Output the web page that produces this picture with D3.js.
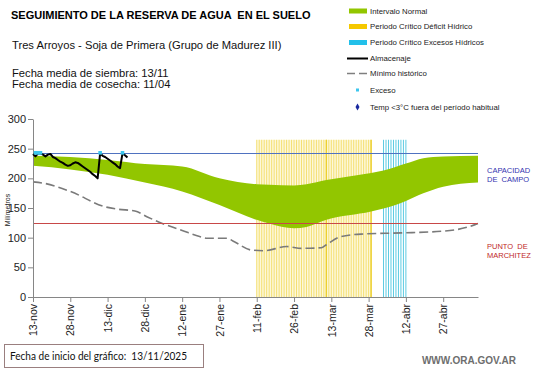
<!DOCTYPE html>
<html>
<head>
<meta charset="utf-8">
<script src="https://cdn.jsdelivr.net/npm/d3@7.9.0/dist/d3.min.js"></script>
<style>
  body { margin: 0; background: #fff; }
  svg { display: block; font-family: "Liberation Sans", Arial, sans-serif; }
</style>
</head>
<body>
<svg id="chart" width="541" height="368"></svg>
<script>
// ---- data ----
const bandDates = ['2025-11-13','2025-11-28','2025-12-13','2025-12-28','2026-01-12','2026-01-27',
  '2026-02-11','2026-02-16','2026-02-26','2026-03-03','2026-03-11','2026-03-29','2026-04-03',
  '2026-04-12','2026-04-19','2026-04-27','2026-05-11'];
const bandLow  = [221, 215, 206, 193, 178, 155, 130, 124, 116, 118, 130, 144, 149, 162, 175, 186, 193];
const bandHigh = [238, 236, 231, 224, 220, 200, 190, 189, 188, 190, 197, 209, 213, 225, 234, 237, 238];

const minDates = ['2025-11-13','2025-11-17','2025-11-28','2025-12-12','2025-12-17','2025-12-24',
  '2025-12-29','2026-01-04','2026-01-12','2026-01-19','2026-01-22','2026-01-30','2026-02-02',
  '2026-02-09','2026-02-14','2026-02-23','2026-03-01','2026-03-09','2026-03-11','2026-03-17',
  '2026-03-25','2026-04-10','2026-04-27','2026-05-07','2026-05-11'];
const minValues = [194, 192, 178, 152, 148, 145, 135, 124, 112, 102, 99, 99, 93,
  79, 78, 85, 82, 83, 88, 102, 106, 108, 111, 118, 124];

// almacenaje, one value per day from the start date
const storageStart = '2025-11-13';
const storageValues = [241, 237, 242, 242, 240, 237, 240, 241, 236, 234, 231, 228, 226, 223,
  221, 222, 225, 227, 226, 223, 220, 217, 214, 211, 207, 204, 200, 242, 238, 236, 233, 230,
  227, 224, 220, 217, 242, 239, 235];

const excessDates = ['2025-11-14','2025-11-15','2025-11-16','2025-12-10','2025-12-19'];
const excessValues = [243, 243, 243, 243, 243];

const deficitPeriod = ['2026-02-11', '2026-03-29'];
const deficitMarks = ['2026-03-11', '2026-03-29'];
const excessPeriod = ['2026-04-03', '2026-04-12'];
const periodTop = 265;

const fieldCapacity = 242;
const wiltingPoint = 124;

const xDomain = ['2025-11-13', '2026-05-11'];
const xTicks = ['2025-11-13','2025-11-28','2025-12-13','2025-12-28','2026-01-12','2026-01-27',
  '2026-02-11','2026-02-26','2026-03-13','2026-03-28','2026-04-12','2026-04-27'];
const yTicks = [0, 50, 100, 150, 200, 250, 300];
const monthAbbr = ['ene','feb','mar','abr','may','jun','jul','ago','sep','oct','nov','dic'];

const legendLabels = ['Intervalo Normal', 'Periodo Crítico Déficit Hídrico',
  'Periodo Crítico Excesos Hídricos', 'Almacenaje', 'Mínimo histórico', 'Exceso',
  'Temp <3°C fuera del período habitual'];

// ---- drawing ----
const parse = d3.timeParse('%Y-%m-%d');
const svg = d3.select('#chart');

const x = d3.scaleTime().domain(xDomain.map(parse)).range([33, 478]);
const y = d3.scaleLinear().domain([0, 300]).range([297, 119]);

const green = '#92c600';
const yellow = '#f4df72';
const cyan = '#5ccbe2';

// periods
function drawPeriod(period, color, fill) {
  const a = parse(period[0]), b = parse(period[1]);
  if (fill) {
    svg.append('rect')
      .attr('x', x(a)).attr('y', y(periodTop))
      .attr('width', x(b) - x(a)).attr('height', y(0) - y(periodTop))
      .attr('fill', fill);
  }
  const days = d3.timeDay.range(a, d3.timeDay.offset(b, 1));
  svg.append('g').selectAll('line').data(days).join('line')
    .attr('x1', d => x(d)).attr('x2', d => x(d))
    .attr('y1', y(periodTop)).attr('y2', y(0))
    .attr('stroke', color).attr('stroke-width', 1);
}
drawPeriod(deficitPeriod, yellow, '#fdf8da');
svg.append('g').selectAll('line').data(deficitMarks.map(parse)).join('line')
  .attr('x1', d => x(d)).attr('x2', d => x(d))
  .attr('y1', y(periodTop)).attr('y2', y(0))
  .attr('stroke', '#ecd030').attr('stroke-width', 1.4);
drawPeriod(excessPeriod, cyan, null);

// normal interval band
const band = bandDates.map((d, i) => ({ date: parse(d), lo: bandLow[i], hi: bandHigh[i] }));
svg.append('path')
  .datum(band)
  .attr('fill', green)
  .attr('d', d3.area().curve(d3.curveMonotoneX)
    .x(d => x(d.date)).y0(d => y(d.lo)).y1(d => y(d.hi)));

// minimum
const minData = minDates.map((d, i) => ({ date: parse(d), v: minValues[i] }));
svg.append('path')
  .datum(minData)
  .attr('fill', 'none')
  .attr('stroke', '#7a7a7a')
  .attr('stroke-width', 1.6)
  .attr('stroke-dasharray', '9,4')
  .attr('d', d3.line().curve(d3.curveMonotoneX).x(d => x(d.date)).y(d => y(d.v)));

// reference lines (snapped to the pixel grid so they stay crisp)
const snap = v => Math.round(v) + 0.5;
svg.append('line')
  .attr('x1', x.range()[0]).attr('x2', x.range()[1])
  .attr('y1', snap(y(fieldCapacity))).attr('y2', snap(y(fieldCapacity)))
  .attr('stroke', '#4f72c0').attr('stroke-width', 1);
svg.append('line')
  .attr('x1', x.range()[0]).attr('x2', x.range()[1])
  .attr('y1', snap(y(wiltingPoint))).attr('y2', snap(y(wiltingPoint)))
  .attr('stroke', '#c84848').attr('stroke-width', 1);

// axes
const fmt = d => d.getDate() + '-' + monthAbbr[d.getMonth()];
const xAxis = svg.append('g')
  .attr('transform', `translate(0,${y(0)})`)
  .call(d3.axisBottom(x).tickValues(xTicks.map(parse)).tickFormat(fmt).tickSize(5).tickSizeOuter(0));
xAxis.select('.domain').attr('stroke', '#868686');
xAxis.selectAll('.tick line').attr('stroke', '#868686');
xAxis.selectAll('.tick text')
  .attr('font-size', 10.5).attr('fill', '#222')
  .attr('transform', 'rotate(-90)')
  .attr('text-anchor', 'end')
  .attr('x', -7).attr('y', 0).attr('dy', '0.35em');

const yAxis = svg.append('g')
  .attr('transform', `translate(${x.range()[0]},0)`)
  .call(d3.axisLeft(y).tickValues(yTicks).tickSize(5).tickSizeOuter(0));
yAxis.select('.domain').attr('stroke', '#868686');
yAxis.selectAll('.tick line').attr('stroke', '#868686');
yAxis.selectAll('.tick text').attr('font-size', 11).attr('fill', '#222').attr('x', -7);

svg.append('text')
  .attr('transform', `translate(10,210) rotate(-90)`)
  .attr('text-anchor', 'middle')
  .attr('font-size', 7).attr('fill', '#222')
  .text('Milímetros');

// almacenaje
const start = parse(storageStart);
const storage = storageValues.map((v, i) => ({ date: d3.timeDay.offset(start, i), v }));
svg.append('path')
  .datum(storage)
  .attr('fill', 'none')
  .attr('stroke', '#000')
  .attr('stroke-width', 2)
  .attr('stroke-linejoin', 'round')
  .attr('d', d3.line().x(d => x(d.date)).y(d => y(d.v)));

svg.append('g').selectAll('rect').data(excessDates.map((d, i) => ({ date: parse(d), v: excessValues[i] })))
  .join('rect')
  .attr('x', d => x(d.date) - 1.8).attr('y', d => y(d.v) - 1.8)
  .attr('width', 3.6).attr('height', 3.6)
  .attr('fill', '#3cc6ee');

// side labels
svg.append('text').attr('x', 487).attr('y', 173).attr('font-size', 7.5).attr('fill', '#3333b0').text('CAPACIDAD');
svg.append('text').attr('x', 487).attr('y', 182).attr('font-size', 7.5).attr('fill', '#3333b0').attr('xml:space', 'preserve').text('DE  CAMPO');
svg.append('text').attr('x', 487).attr('y', 249).attr('font-size', 7.5).attr('fill', '#c02828').attr('xml:space', 'preserve').text('PUNTO  DE');
svg.append('text').attr('x', 487).attr('y', 258).attr('font-size', 7.5).attr('fill', '#c02828').text('MARCHITEZ');

// header texts
svg.append('text').attr('x', 11).attr('y', 19).attr('font-size', 11).attr('font-weight', 'bold')
  .attr('xml:space', 'preserve').text('SEGUIMIENTO DE LA RESERVA DE AGUA  EN EL SUELO');
svg.append('text').attr('x', 12).attr('y', 49).attr('font-size', 11.2).attr('fill', '#111')
  .text('Tres Arroyos - Soja de Primera (Grupo de Madurez III)');
svg.append('text').attr('x', 12).attr('y', 77).attr('font-size', 11.2).attr('fill', '#111')
  .text('Fecha media de siembra: 13/11');
svg.append('text').attr('x', 12).attr('y', 88).attr('font-size', 11.2).attr('fill', '#111')
  .text('Fecha media de cosecha: 11/04');

// legend
const legend = svg.append('g').attr('font-size', 7.8).attr('fill', '#222');
const legendY = [11, 26.5, 42.5, 58.5, 73.5, 90, 107];
legendLabels.forEach((label, i) => {
  const ly = legendY[i];
  if (i < 3) {
    legend.append('rect').attr('x', 349).attr('y', ly - 2.5).attr('width', 18).attr('height', 5)
      .attr('fill', [green, '#f5c800', '#22c0ea'][i]);
  } else if (i === 3) {
    legend.append('line').attr('x1', 347).attr('x2', 368).attr('y1', ly).attr('y2', ly)
      .attr('stroke', '#000').attr('stroke-width', 2);
  } else if (i === 4) {
    legend.append('line').attr('x1', 347).attr('x2', 368).attr('y1', ly).attr('y2', ly)
      .attr('stroke', '#7f7f7f').attr('stroke-width', 1.6).attr('stroke-dasharray', '8,4');
  } else if (i === 5) {
    legend.append('rect').attr('x', 356).attr('y', ly - 1.5).attr('width', 3).attr('height', 3)
      .attr('fill', '#3cc6ee');
  } else {
    legend.append('path').attr('d', d3.symbol(d3.symbolDiamond, 14)())
      .attr('transform', `translate(357.5,${ly})`).attr('fill', '#1a2aa0');
  }
  legend.append('text').attr('x', 370).attr('y', ly).attr('dy', '0.35em').text(label);
});

// footer
svg.append('rect').attr('x', 4.5).attr('y', 344.5).attr('width', 199).attr('height', 23)
  .attr('fill', 'none').attr('stroke', '#9a7f7f').attr('stroke-width', 1);
svg.append('text').attr('x', 10).attr('y', 360).attr('font-size', 10.5)
  .attr('font-family', 'Lato, "Open Sans", sans-serif').attr('fill', '#111')
  .attr('textLength', 177).attr('lengthAdjust', 'spacingAndGlyphs')
  .attr('xml:space', 'preserve').text('Fecha de inicio del gráfico:  13/11/2025');
svg.append('text').attr('x', 516).attr('y', 364).attr('text-anchor', 'end')
  .attr('font-size', 10).attr('font-weight', 'bold').attr('fill', '#6e6e6e')
  .text('WWW.ORA.GOV.AR');
</script>
</body>
</html>
